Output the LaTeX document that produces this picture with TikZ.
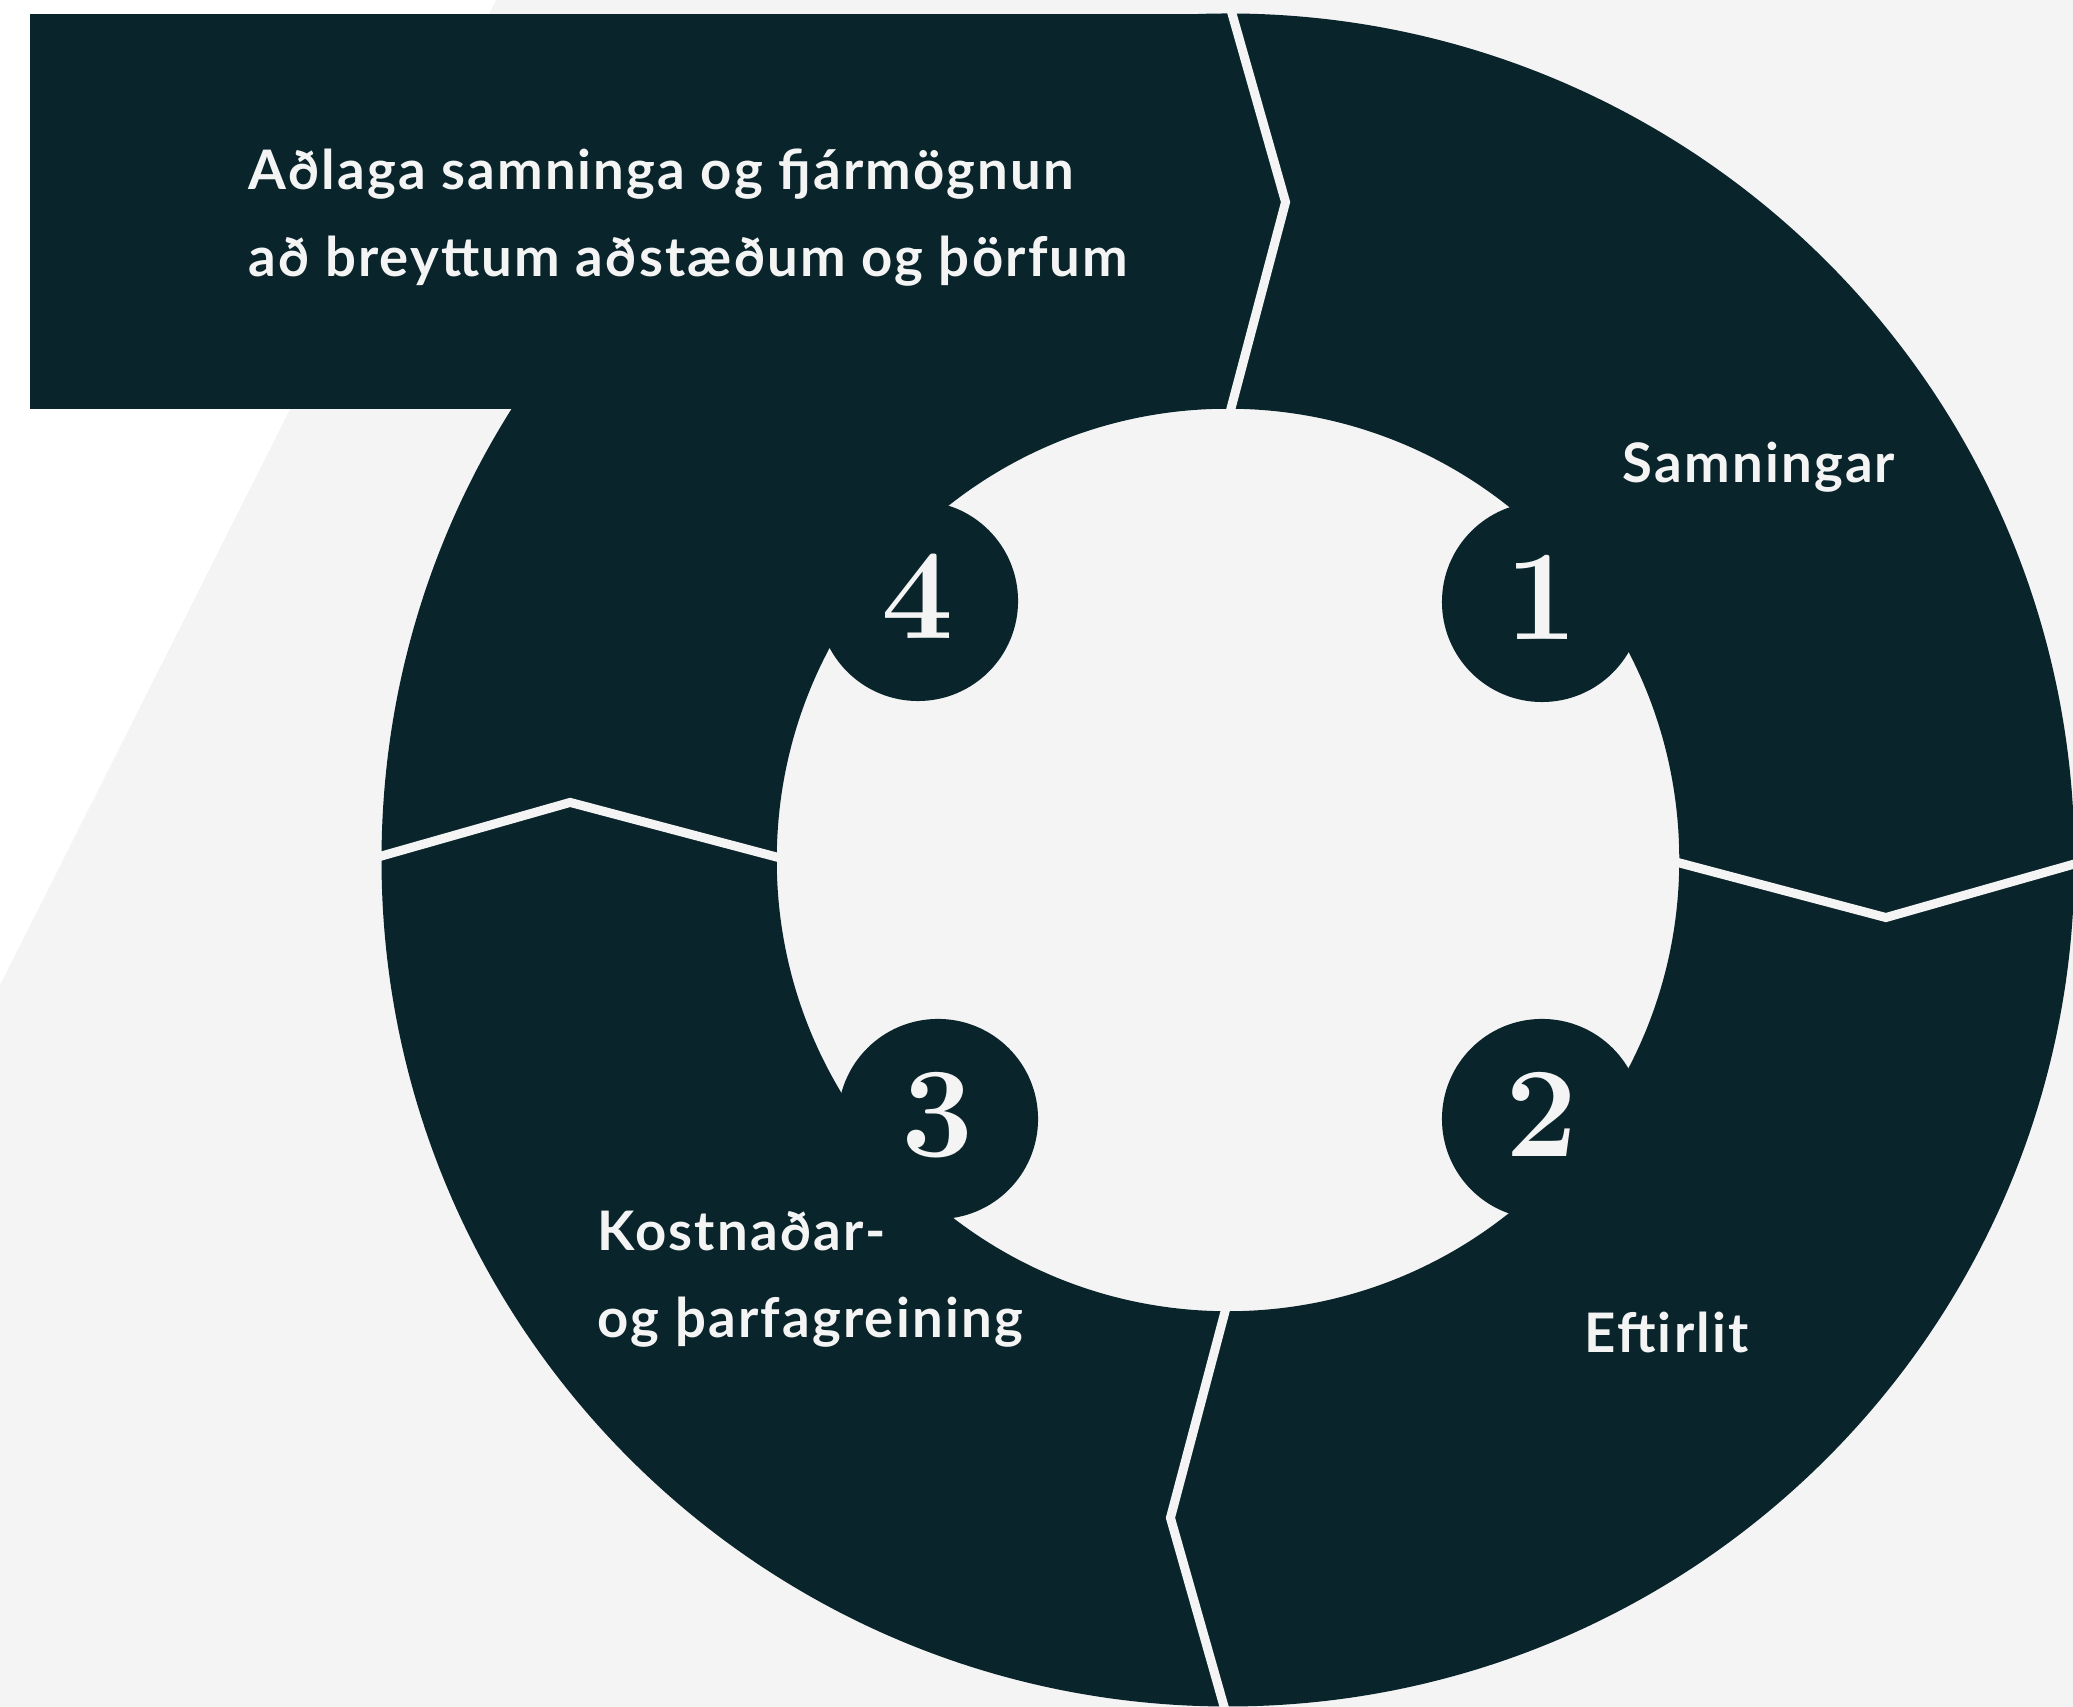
\documentclass[tikz,border=0pt]{standalone}
\usepackage{fontspec}
\setsansfont{Lato}[LetterSpace=4]
\usepackage{tikz}
\usepackage{xcolor}
\usetikzlibrary{
    calc,
    positioning
}
\definecolor{dk}{HTML}{09242A}
\definecolor{bg}{HTML}{F3F4F3}
\tikzset{numc/.style={circle, inner sep=0pt, minimum size=2cm, text depth=0.1cm, fill=dk, text=bg, font=\rmfamily\bfseries\fontsize{36.5}{38}\selectfont}}
\tikzset{lbl/.style={inner sep=0pt, align=left, text=bg, font=\sffamily\bfseries\fontsize{15.5}{24.8}\selectfont}}
\tikzset{sep/.style={draw=bg, line width=0.09cm}}

\begin{document}
\begin{tikzpicture}[x=0.01cm, y=0.01cm]
                        \useasboundingbox (0,0) rectangle (2073,1707);
                        \fill[bg] (0,0) rectangle (2073,1707);
                        \fill[white] (0,1707) -- (496,1707) -- (0,722) -- cycle;
                        \coordinate (c) at (1228,847);
                        \fill[dk, even odd rule] (c) circle (8.46cm) (c) circle (4.51cm);
                        \fill[dk] (30,1298) rectangle (1228,1693);
                        \draw[sep]
                        ($(c)+(90:4.4cm)$) -- ($(c)+(85:6.6cm)$) -- ($(c)+(90:8.6cm)$)
                        ($(c)+(0:4.4cm)$) -- ($(c)+(-5:6.6cm)$) -- ($(c)+(0:8.6cm)$)
                        ($(c)+(-90:4.4cm)$) -- ($(c)+(-95:6.6cm)$) -- ($(c)+(-90:8.6cm)$)
                        ($(c)+(180:4.4cm)$) -- ($(c)+(175:6.6cm)$) -- ($(c)+(180:8.6cm)$);
                        \node[numc] (n1) at (1542,1105) {1};
                        \node[numc] (n2) at (1542,588) {2};
                        \node[numc] (n3) at (938,588) {3};
                        \node[numc] (n4) at (918,1106) {4};
                        \node[lbl, anchor=base west] (samn) at ($(n1) + (80, 119)$) {Samningar};
                        \node[lbl, anchor=base west] (eftir) at ($(n2) + (42, -234)$) {Eftirlit};
                        \node[lbl, anchor=north west] (kostn) at ($(n3) + (-341, -91)$) {Kostnaðar-\\og þarfagreining};
                        \node[lbl, anchor=north west] (adlaga) at ($(n4) + (-670, 453)$) {Aðlaga samninga og fjármögnun\\að breyttum aðstæðum og þörfum};
                    \end{tikzpicture}
\end{document}
